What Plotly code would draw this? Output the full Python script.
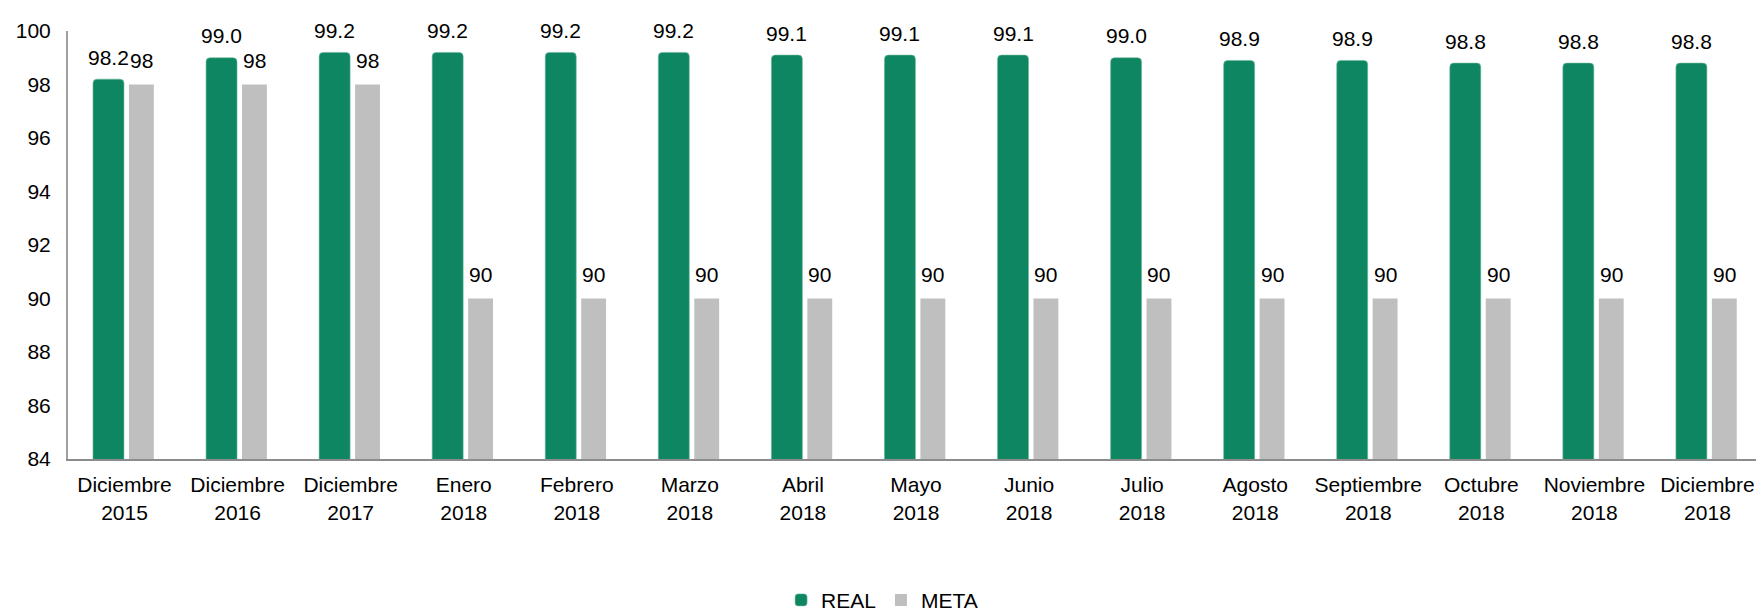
import plotly.graph_objects as go

months = ["Diciembre", "Diciembre", "Diciembre", "Enero", "Febrero", "Marzo", "Abril",
          "Mayo", "Junio", "Julio", "Agosto", "Septiembre", "Octubre", "Noviembre", "Diciembre"]
years = ["2015", "2016", "2017", "2018", "2018", "2018", "2018", "2018", "2018", "2018",
         "2018", "2018", "2018", "2018", "2018"]
real = [98.2, 99.0, 99.2, 99.2, 99.2, 99.2, 99.1, 99.1, 99.1, 99.0, 98.9, 98.9, 98.8, 98.8, 98.8]
meta = [98, 98, 98, 90, 90, 90, 90, 90, 90, 90, 90, 90, 90, 90, 90]

categories = [f"{m}<br>{y}" for m, y in zip(months, years)]

GREEN = "#0E8662"
GRAY = "#BFBFBF"
FONT = "Liberation Sans, Arial, sans-serif"
FS = 21

fig = go.Figure()
fig.add_trace(go.Bar(
    name="REAL", x=categories, y=real,
    marker=dict(color=GREEN, line=dict(color="#6FB89C", width=0.6), cornerradius=4),
    width=0.274, offset=-0.279,
))
fig.add_trace(go.Bar(
    name="META", x=categories, y=meta,
    marker=dict(color=GRAY, line=dict(width=0)),
    width=0.22, offset=0.039,
))

annotations = []
for i, c in enumerate(categories):
    annotations.append(dict(
        x=i - 0.279 + 0.137, y=real[i], xref="x", yref="y", text=f"{real[i]:.1f}",
        showarrow=False, yanchor="middle", xanchor="center", yshift=22,
        font=dict(family=FONT, size=FS, color="#000000"),
    ))
    annotations.append(dict(
        x=i + 0.039 + 0.11, y=meta[i], xref="x", yref="y", text=f"{meta[i]}",
        showarrow=False, yanchor="middle", xanchor="center", yshift=24,
        font=dict(family=FONT, size=FS, color="#000000"),
    ))

fig.update_layout(
    width=1756, height=613,
    margin=dict(l=60, r=0, t=23, b=154),
    barmode="overlay",
    plot_bgcolor="white", paper_bgcolor="white",
    font=dict(family=FONT, size=FS, color="#000000"),
    showlegend=True,
    legend=dict(orientation="h", x=0.48, xanchor="center", y=-0.33, yanchor="middle",
                font=dict(family=FONT, size=FS, color="#000000"),
                itemwidth=30, tracegroupgap=0),
    annotations=annotations,
    xaxis=dict(
        type="category", range=[-0.5, len(categories) - 0.5],
        showline=True, linecolor="#8C8C8C", linewidth=2,
        showgrid=False, ticks="", tickangle=0,
        ticklabelstandoff=6,
        tickfont=dict(family=FONT, size=FS, color="#000000"),
    ),
    yaxis=dict(
        range=[84, 100], tickvals=list(range(84, 101, 2)),
        showline=True, linecolor="#A0A0A0", linewidth=2,
        showgrid=False, zeroline=False, ticks="",
        ticklabelstandoff=11,
        tickfont=dict(family=FONT, size=FS, color="#000000"),
    ),
)

fig.write_html("out.html")
